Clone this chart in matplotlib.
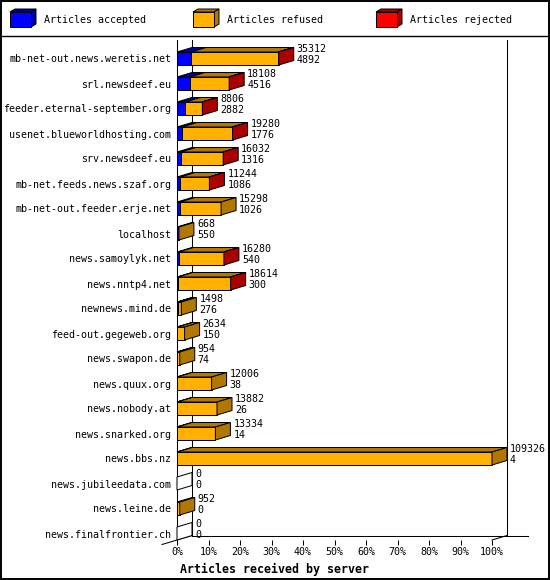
import matplotlib
matplotlib.use('Agg')
import matplotlib.pyplot as plt
from matplotlib.patches import Polygon, Rectangle

# per-server numbers
servers = ['mb-net-out.news.weretis.net', 'srl.newsdeef.eu', 'feeder.eternal-september.org',
           'usenet.blueworldhosting.com', 'srv.newsdeef.eu', 'mb-net.feeds.news.szaf.org',
           'mb-net-out.feeder.erje.net', 'localhost', 'news.samoylyk.net', 'news.nntp4.net',
           'newnews.mind.de', 'feed-out.gegeweb.org', 'news.swapon.de', 'news.quux.org',
           'news.nobody.at', 'news.snarked.org', 'news.bbs.nz', 'news.jubileedata.com',
           'news.leine.de', 'news.finalfrontier.ch']
offered = [35312, 18108, 8806, 19280, 16032, 11244, 15298, 668, 16280, 18614,
           1498, 2634, 954, 12006, 13882, 13334, 109326, 0, 952, 0]
accepted = [4892, 4516, 2882, 1776, 1316, 1086, 1026, 550, 540, 300,
            276, 150, 74, 38, 26, 14, 4, 0, 0, 0]
# rejected is too thin to read, only the red side face shows it is there
rejected = [150, 90, 60, 40, 30, 20, 0, 0, 10, 20,
            0, 0, 0, 0, 0, 0, 0, 0, 0, 0]
refused = [30270, 13502, 5864, 17464, 14686, 10138, 14272, 118, 15730, 18294,
           1222, 2484, 880, 11968, 13856, 13320, 109322, 0, 952, 0]
pct_ticks = [0, 10, 20, 30, 40, 50, 60, 70, 80, 90, 100]

legend_names = ['Articles accepted', 'Articles refused', 'Articles rejected']
front_cols = ['#0000ff', '#ffb000', '#ff0000']
side_cols = ['#0000aa', '#b07800', '#aa0000']

plt.rcParams['font.family'] = ['DejaVu Sans Mono']
plt.rcParams['font.size'] = 7.2

W, H = 550, 580
fig = plt.figure(figsize=(W / 100, H / 100), dpi=100)

# background layer in pixels: outer frame + legend
bg = fig.add_axes([0, 0, 1, 1])
bg.set_xlim(0, W)
bg.set_ylim(H, 0)
bg.axis('off')
bg.add_patch(Rectangle((0.5, 0.5), W - 1.5, H - 1.5, fill=False, ec='black', lw=1.4))
bg.plot([0, W], [35.5, 35.5], color='black', lw=1.0)
for k, name in enumerate(legend_names):
    x0 = 10 + 183 * k
    bg.add_patch(Polygon([(x0, 12), (x0 + 5, 9), (x0 + 26, 9), (x0 + 21, 12)],
                         fc=side_cols[k], ec='black', lw=0.7))
    bg.add_patch(Polygon([(x0 + 21, 12), (x0 + 26, 9), (x0 + 26, 24), (x0 + 21, 27)],
                         fc=side_cols[k], ec='black', lw=0.7))
    bg.add_patch(Rectangle((x0, 12), 21, 15, fc=front_cols[k], ec='black', lw=0.7))
    bg.text(x0 + 34, 20, name, va='center', ha='left')

# chart area
n = len(servers)
xmax = max(offered)
h = 0.52
ax = fig.add_axes([177 / W, 40 / H, 315 / W, 500 / H])
ax.set_xlim(0, xmax)
ax.set_ylim(n - 1 + h / 2, n - 1 + h / 2 - 20)
for s in ['top', 'right', 'bottom']:
    ax.spines[s].set_visible(False)
ax.spines['left'].set_linewidth(0.75)
ax.set_yticks(range(n), servers)
ax.tick_params(axis='y', length=0, pad=4)
ax.set_xticks([p / 100 * xmax for p in pct_ticks], [f'{p}%' for p in pct_ticks])
ax.tick_params(axis='x', length=3.6, width=0.75, pad=1.3)
ax.set_xlabel('Articles received by server', fontweight='bold', fontsize=8.4, labelpad=2)
ax.xaxis.set_label_coords(0.308, -0.046)

dx = 15 / 315 * xmax
dy = 4.5 / 25
y_front, y_top = ax.get_ylim()
y_back = y_front - dy
line = dict(color='black', lw=0.75, clip_on=False, zorder=1)
ax.plot([dx, dx], [y_back, y_top], **line)
ax.plot([xmax + dx, xmax + dx], [y_back, y_top], **line)
ax.plot([dx, xmax + dx + 21 / 315 * xmax], [y_back, y_back], **line)
ax.plot([-dx, dx], [y_front + dy, y_back], **line)
ax.plot([xmax, xmax + dx], [y_front, y_back], **line)


def face(pts, col):
    ax.add_patch(Polygon(pts, closed=True, fc=col, ec='black', lw=0.72,
                         clip_on=False, zorder=3, joinstyle='miter'))


for i in range(n):
    yt, yb = i - h / 2, i + h / 2
    left = 0
    last = None
    for k, v in enumerate([accepted[i], refused[i], rejected[i]]):
        if v <= 0:
            continue
        ax.barh(i, v, left=left, height=h, color=front_cols[k], ec='black', lw=0.72,
                zorder=3, clip_on=False)
        face([(left, yt), (left + v, yt), (left + v + dx, yt - dy), (left + dx, yt - dy)],
             side_cols[k])
        left += v
        last = k
    side = side_cols[last] if last is not None else 'white'
    face([(left, yt), (left + dx, yt - dy), (left + dx, yb - dy), (left, yb)], side)
    ax.annotate(f'{offered[i]}\n{accepted[i]}', xy=(left + dx, i), xytext=(3, 4),
                textcoords='offset pixels', va='center', ha='left', linespacing=1.05,
                annotation_clip=False)

fig.savefig('out.png', dpi=100)
